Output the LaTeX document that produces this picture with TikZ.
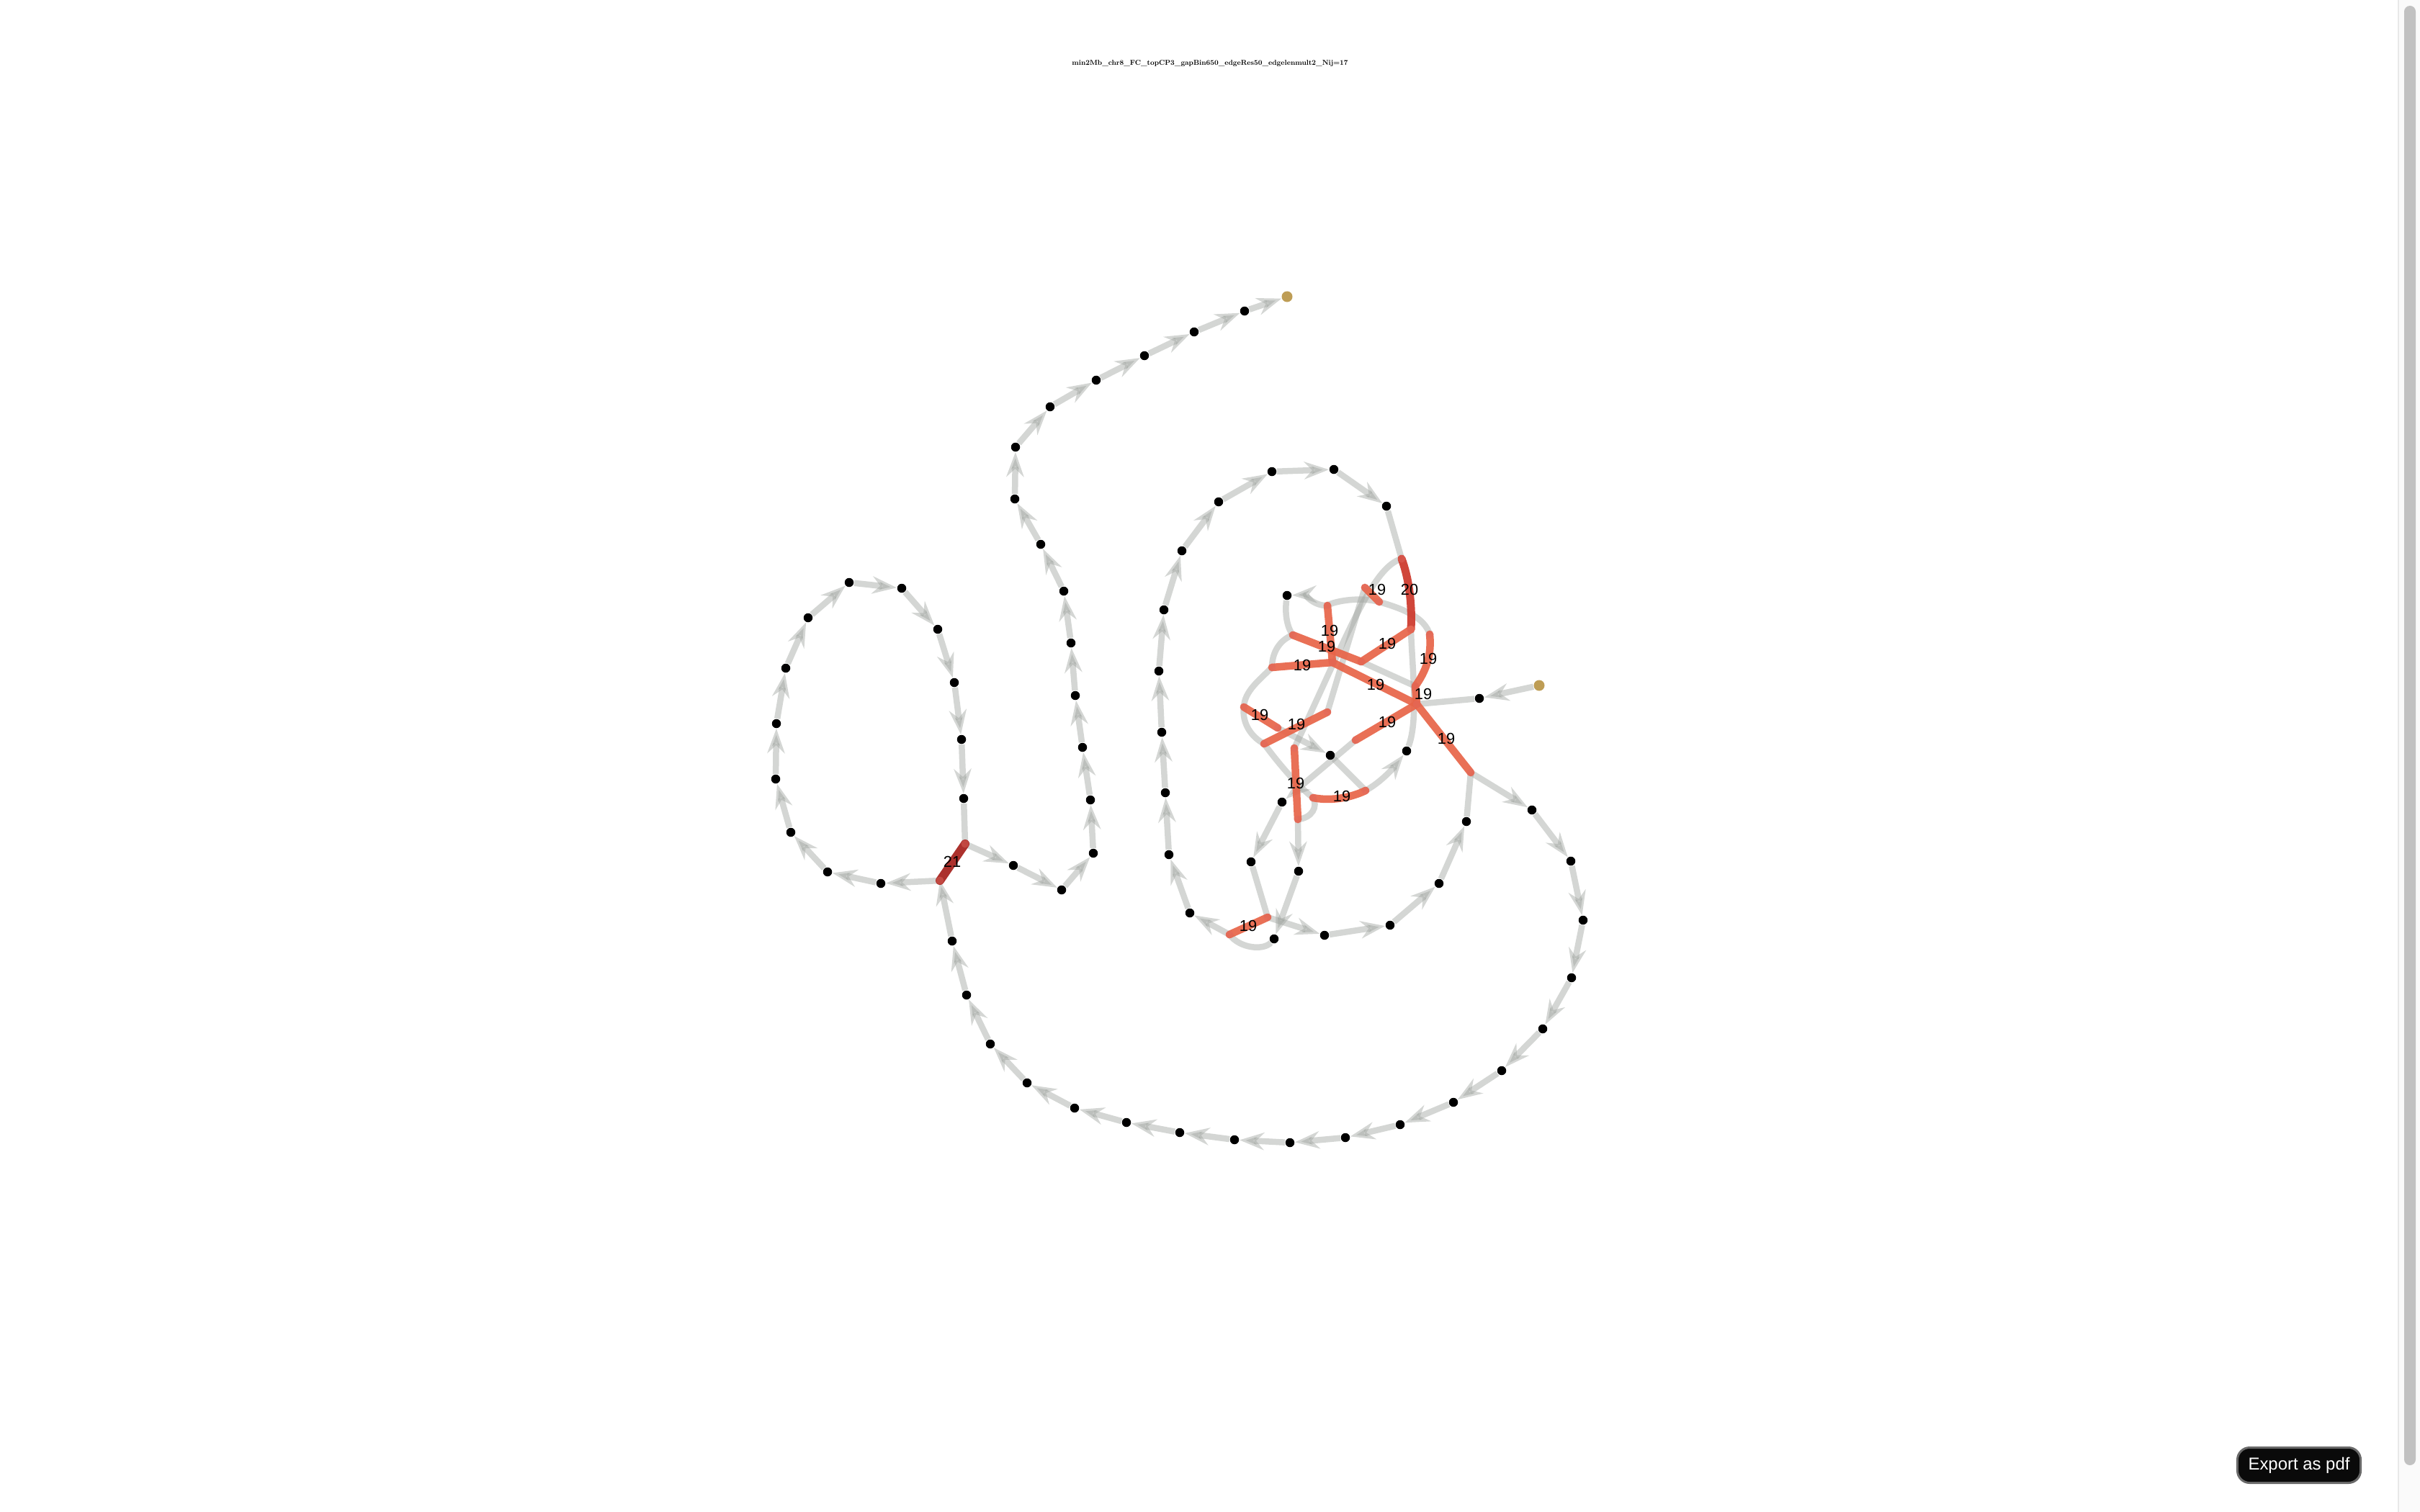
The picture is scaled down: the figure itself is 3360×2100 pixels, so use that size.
\documentclass[tikz,border=0pt]{standalone}
\usepackage{fontspec}
\usepackage{graphicx}
\usetikzlibrary{arrows.meta}
\newfontfamily\labfont{Liberation Sans}
\definecolor{eg}{RGB}{160,165,160}
\definecolor{rA}{RGB}{232,100,72}
\definecolor{rB}{RGB}{205,55,42}
\definecolor{rC}{RGB}{165,32,28}
\definecolor{rend}{RGB}{225,105,95}
\definecolor{gold}{RGB}{190,157,85}
\definecolor{btnfill}{RGB}{10,10,10}
\definecolor{btnedge}{RGB}{105,105,105}
\definecolor{sbtrack}{RGB}{250,250,250}
\definecolor{sbedge}{RGB}{232,232,232}
\definecolor{sbthumb}{RGB}{193,193,193}
\pgfdeclarelayer{bg}
\pgfdeclarelayer{edges}
\pgfsetlayers{bg,edges,main}
\begin{document}
\begin{tikzpicture}[x=0.01cm,y=-0.01cm,
  dot/.style={circle,fill=black,inner sep=0pt,minimum size=0.125cm},
  gdot/.style={circle,fill=gold,inner sep=0pt,minimum size=0.15cm},
  ge/.style={draw=eg,line width=0.085cm,opacity=0.45},
  ga/.style={ge,-{Stealth[length=0.34cm,width=0.24cm,inset=0.11cm]}},
  re/.style={draw=rA,line width=0.105cm,line cap=round,opacity=0.92},
  lab/.style={font=\labfont\fontsize{6.2}{7}\selectfont,inner sep=0pt}]
\useasboundingbox (0,0) rectangle (3360,2100);
\begin{pgfonlayer}{bg}
\fill[white] (0,0) rectangle (3360,2100);
\end{pgfonlayer}
% scrollbar
\fill[sbtrack] (3330,0) rectangle (3360,2100);
\draw[sbedge,line width=0.02cm] (3330,0) -- (3330,2100);
\fill[sbthumb,rounded corners=0.08cm] (3338,8) rectangle (3354,2035);
% title
\node (title) at (1680,88) {\resizebox{3.83cm}{!}{\bfseries min2Mb\_chr8\_FC\_topCP3\_gapBin650\_edgeRes50\_edgelenmult2\_Nij=17}};
% button
\node[rounded corners=0.17cm,fill=btnfill,draw=btnedge,line width=0.03cm,minimum width=1.71cm,minimum height=0.49cm,text=white,font=\labfont\fontsize{6.8}{8}\selectfont] (exp) at (3192,2035) {Export as pdf};

% ---- black nodes
\foreach \n/\x/\y in {n1/1407/1202,n2/1474/1236,n3/1518/1185,n4/1514/1111,n5/1503/1038,n6/1493/966,n7/1487/893,n8/1477/821,n9/1445/756,n10/1409/693,n11/1410/621,n12/1458/565,n13/1522/528,n14/1589/494,n15/1658/461,n16/1728/432,
 L1/1179/809,L2/1252/817,L3/1302/874,L4/1325/948,L5/1335/1027,L6/1338/1109,L7/1223/1227,L8/1149/1211,L9/1098/1156,L10/1077/1082,L11/1078/1005,L12/1091/928,L13/1122/858,
 b1/2127/1125,b2/2181/1196,b3/2198/1278,b4/2182/1358,b5/2142/1429,b6/2085/1487,b7/2018/1531,b8/1944/1562,b9/1868/1580,b10/1791/1587,b11/1714/1583,b12/1638/1573,b13/1564/1559,b14/1492/1539,b15/1426/1504,b16/1375/1450,b17/1342/1382,b18/1322/1307,
 s1/1652/1268,s2/1623/1187,s3/1618/1101,s4/1613/1017,s5/1609/932,s6/1616/847,s7/1641/765,s8/1692/697,s9/1766/655,s10/1852/652,s11/1925/703,
 c1/1839/1299,c2/1930/1285,c3/1998/1227,c4/2036/1141,
 k1/1787/827,k2/1847/1049,k3/1953/1043,k4/1780/1114,k5/1803/1210,k6/1769/1304,k7/1737/1197,e1/2054/970}
  \node[dot] (\n) at (\x,\y) {};
\node[gdot] (Y1) at (1787,412) {};
\node[gdot] (Y2) at (2137,952) {};

% ---- red endpoints
\foreach \n/\x/\y in {J21a/1340/1172,J21b/1305/1223,R20t/1946/776,R20b/1959/874,A/1895/816,B/1915/836,C/1843/841,D/1795/882,E/1985/881,F/1850/920,G/1890/919,H/1766/927,I/1965/953,HUB/1967/978,J/1727/982,K/1774/1011,L/1843/989,M/1755/1033,N/1882/1028,O/1797/1039,P/2042/1073,Q/1823/1108,R/1896/1098,S/1802/1138,T1/1760/1274,T2/1707/1298}
  \coordinate (\n) at (\x,\y);

\begin{pgfonlayer}{edges}
% gray edges with arrows
\foreach \a/\b in {J21a/n1,n1/n2,n2/n3,n3/n4,n4/n5,n5/n6,n6/n7,n7/n8,n8/n9,n9/n10,n10/n11,n11/n12,n12/n13,n13/n14,n14/n15,n15/n16,n16/Y1,
 J21b/L7,L7/L8,L8/L9,L9/L10,L10/L11,L11/L12,L12/L13,L13/L1,L1/L2,L2/L3,L3/L4,L4/L5,L5/L6,
 P/b1,b1/b2,b2/b3,b3/b4,b4/b5,b5/b6,b6/b7,b7/b8,b8/b9,b9/b10,b10/b11,b11/b12,b12/b13,b13/b14,b14/b15,b15/b16,b16/b17,b17/b18,b18/J21b,
 T2/s1,s1/s2,s2/s3,s3/s4,s4/s5,s5/s6,s6/s7,s7/s8,s8/s9,s9/s10,s10/s11,
 T1/c1,c1/c2,c2/c3,c3/c4,Y2/e1,K/k2,N/k4,k4/k7,S/k5,k5/k6}
  \draw[ga] (\a) -- (\b);
% gray edges without arrows
\foreach \a/\b in {L6/J21a,s11/R20t,c4/P,e1/HUB,k2/R,k7/T1,G/I,L/A}
  \draw[ge] (\a) -- (\b);
% gray curves
\draw[ga] (E) .. controls (1978,858) and (1950,846) .. (B) .. controls (1885,828) and (1850,836) .. (C) .. controls (1825,842) and (1810,826) .. (k1);
\draw[ge] (k1) .. controls (1784,850) and (1786,870) .. (D);
\draw[ge] (D) .. controls (1778,888) and (1766,905) .. (H);
\draw[ge] (H) .. controls (1748,945) and (1728,960) .. (J);
\draw[ge] (J) .. controls (1724,1005) and (1738,1024) .. (M);
\draw[ge] (M) .. controls (1775,1060) and (1800,1090) .. (Q);
\draw[ge] (S) .. controls (1822,1136) and (1830,1120) .. (Q);
\draw[ga] (R) .. controls (1918,1086) and (1935,1066) .. (k3);
\draw[ge] (k3) .. controls (1970,1000) and (1960,920) .. (R20b);
\draw[ge] (k6) .. controls (1755,1320) and (1722,1318) .. (T2);
\draw[ge] (R20t) .. controls (1905,788) and (1872,880) .. (O);
% red edges
\draw[re,draw=rC,line width=0.12cm] (J21a) -- (J21b);
\draw[re,draw=rB,line width=0.11cm] (R20t) .. controls (1955,800) and (1961,835) .. (R20b);
\foreach \a/\b in {A/B,C/F,D/G,G/R20b,H/F,F/HUB,I/HUB,J/K,M/L,N/HUB,HUB/P,O/S,T2/T1}
  \draw[re] (\a) -- (\b);
\draw[re] (E) .. controls (1988,910) and (1980,932) .. (I);
\draw[re] (Q) .. controls (1848,1113) and (1875,1108) .. (R);
\end{pgfonlayer}
% red end caps
\foreach \n in {J21a,J21b,R20t,R20b,A,B,C,D,E,F,G,H,I,HUB,J,K,L,M,N,O,P,Q,R,S,T1,T2}
  \fill[rend,opacity=0.45] (\n) circle (0.055cm);

% labels
\node[lab] (t21) at (1322,1197) {21};
\node[lab] (t20) at (1957,819) {20};
\foreach \n/\x/\y in {la/1912/819,lb/1846/876,lc/1842/898,ld/1926/894,le/1983/915,lf/1808/924,lg/1910/951,lh/1976/964,li/1749/993,lj/1800/1006,lk/1926/1003,ll/2008/1026,lm/1799/1088,ln/1863/1106,lo/1733/1286}
  \node[lab] (\n) at (\x,\y) {19};
\end{tikzpicture}
\end{document}
